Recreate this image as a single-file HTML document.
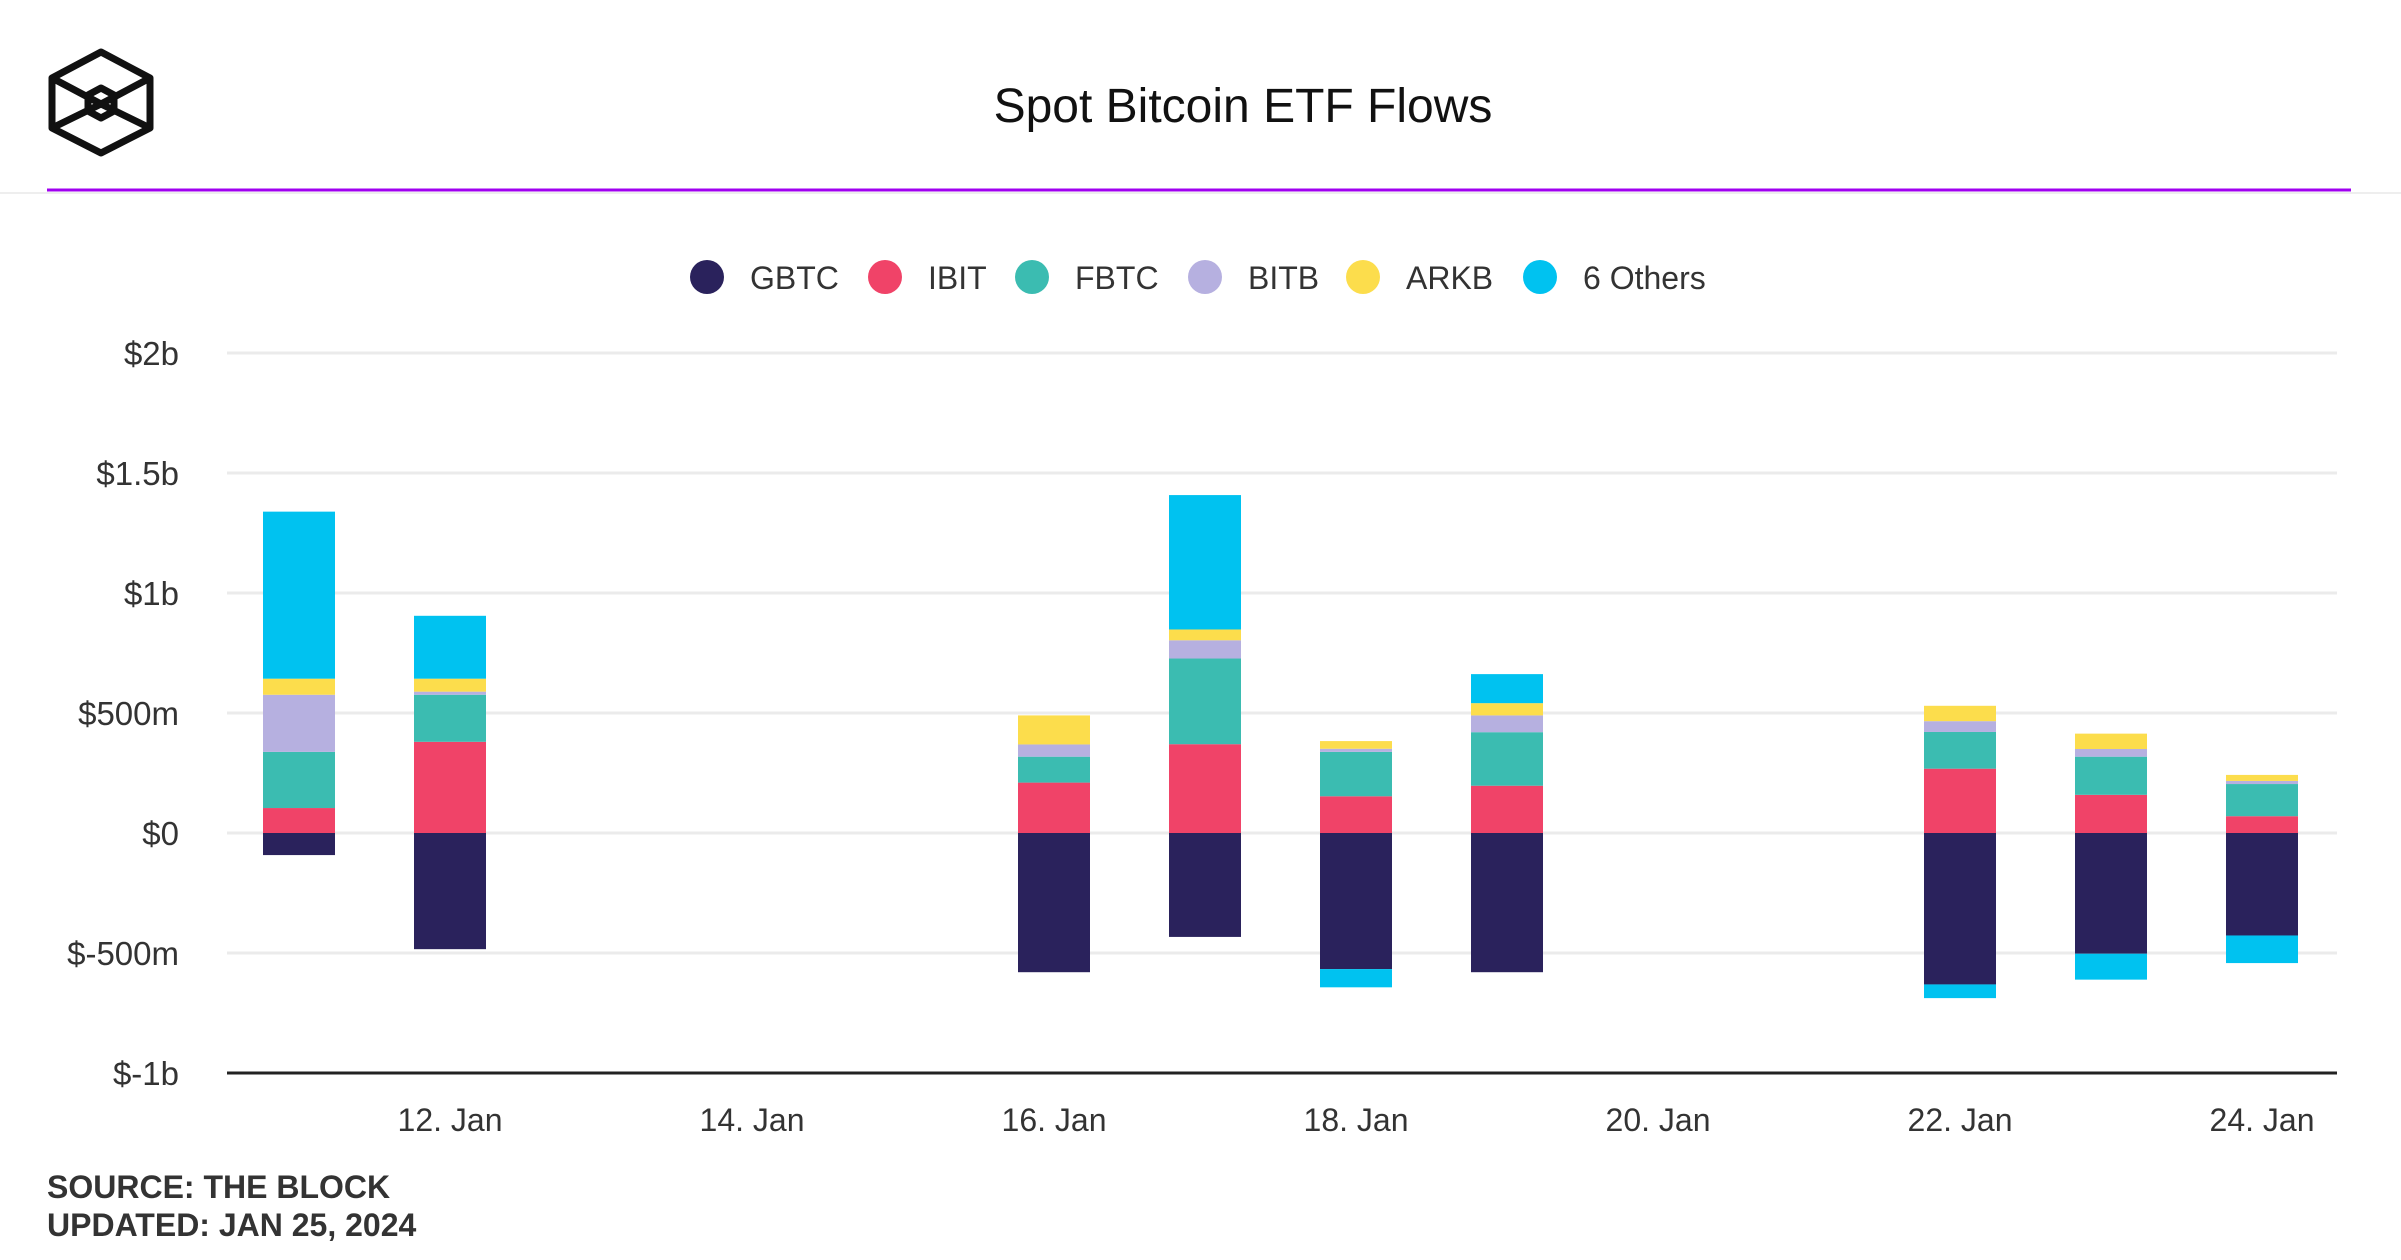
<!DOCTYPE html>
<html><head><meta charset="utf-8"><style>
html,body{margin:0;padding:0;background:#fff;}
body{width:2401px;height:1260px;position:relative;overflow:hidden;font-family:"Liberation Sans",sans-serif;}
</style></head><body>
<svg id="chart" width="2401" height="1260" xmlns="http://www.w3.org/2000/svg" style="position:absolute;left:0;top:0">
<g fill="none" stroke="#111" stroke-width="7" stroke-linejoin="round">
<polygon points="101,52 150,78 150,128 101,153 52,128 52,78"/>
<polyline points="52,78 101,104 150,78"/>
<polyline points="52,128 101,104 150,128"/>
<polygon points="101,88 114,95 114,111 101,118 88,111 88,95"/>
</g>
<text x="1243" y="122" text-anchor="middle" font-size="48" fill="#111">Spot Bitcoin ETF Flows</text>
<line x1="0" y1="193" x2="2401" y2="193" stroke="#eee" stroke-width="2"/>
<line x1="47" y1="190" x2="2351" y2="190" stroke="#a000f0" stroke-width="3"/>
<g id="legend"></g>
<g id="grid"></g>
<g id="bars"></g>
<g id="xaxis"></g>
<text x="47" y="1198" font-size="32" font-weight="bold" fill="#333">SOURCE: THE BLOCK</text>
<text x="47" y="1236" font-size="32" font-weight="bold" fill="#333">UPDATED: JAN 25, 2024</text>
</svg>
<script>
const days=[11,12,16,17,18,19,22,23,24];
const GBTC=[-92,-484,-580,-433,-567,-580,-631,-503,-427];
const IBIT=[104,380,210,370,153,197,268,159,70];
const FBTC=[234,196,108,357,185,223,153,159,134];
const BITB=[238,13,51,76,13,70,45,32,13];
const ARKB=[67,54,121,45,32,51,64,64,25];
const OTHERS=[696,262,0,560,-76,121,-57,-108,-115];
const seriesNames=["GBTC","IBIT","FBTC","BITB","ARKB","6 Others"];
const colors=["#2a225c","#f04368","#3bbcb1","#b6b0e0","#fcdd4c","#00c2f0"];
const yTicks=[2000,1500,1000,500,0,-500,-1000];
const yTickLabels=["$2b","$1.5b","$1b","$500m","$0","$-500m","$-1b"];
const xTicks=[12,14,16,18,20,22,24];
const xTickLabels=["12. Jan","14. Jan","16. Jan","18. Jan","20. Jan","22. Jan","24. Jan"];
const NS="http://www.w3.org/2000/svg";
function y(v){return 833-v*0.24;}
function x(d){return 299+(d-11)*151;}
function mk(tag,attrs,parent){const e=document.createElementNS(NS,tag);for(const k in attrs)e.setAttribute(k,attrs[k]);parent.appendChild(e);return e;}
const grid=document.getElementById('grid');
yTicks.forEach((v,i)=>{
 const l=mk('line',{x1:227,x2:2337,y1:y(v),y2:y(v),stroke:v===-1000?'#222':'#ebebeb','stroke-width':3},grid);
 
 
 const t=mk('text',{x:179,y:y(v)+12,'text-anchor':'end','font-size':33,fill:'#333'},grid);
 t.textContent=yTickLabels[i];
 
 
});
const xa=document.getElementById('xaxis');
xTicks.forEach((d,i)=>{
 const t=mk('text',{x:x(d),y:1131,'text-anchor':'middle','font-size':32,fill:'#333'},xa);
 t.textContent=xTickLabels[i];
 
 
});
const series=[GBTC,IBIT,FBTC,BITB,ARKB,OTHERS];
const bars=document.getElementById('bars');
days.forEach((d,i)=>{
 let pos=0,neg=0;
 series.forEach((s,k)=>{
  const v=s[i]; if(!v)return;
  let a,b;
  if(v>0){a=pos;b=pos+v;pos=b;}else{a=neg;b=neg+v;neg=b;}
  const top=y(Math.max(a,b)),bot=y(Math.min(a,b));
  const r=mk('rect',{x:x(d)-36,y:top,width:72,height:bot-top,fill:colors[k]},bars);
  
  
 });
});
const lg=document.getElementById('legend');
const lx=[707,885,1032,1205,1363,1540];
seriesNames.forEach((n,k)=>{
 const g=mk('g',{},lg);
 
 
 mk('circle',{cx:lx[k],cy:277,r:17,fill:colors[k]},g);
 const t=mk('text',{x:lx[k]+43,y:289,'font-size':32,fill:'#333'},g);
 t.textContent=n;
});
</script>
</body></html>
